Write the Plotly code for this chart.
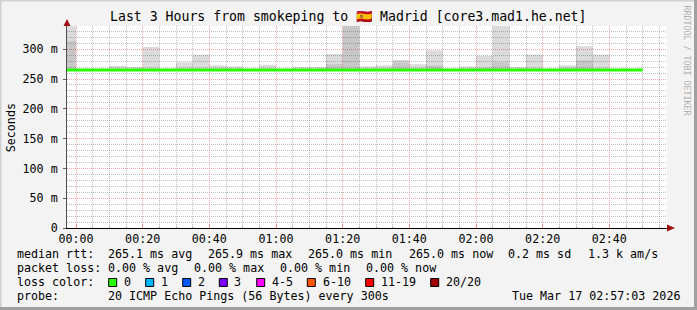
import plotly.graph_objects as go
import numpy as np

# ---------------- data ----------------
bin_start = [
    "2026-03-16 23:55", "2026-03-17 00:00", "2026-03-17 00:05", "2026-03-17 00:10",
    "2026-03-17 00:15", "2026-03-17 00:20", "2026-03-17 00:25", "2026-03-17 00:30",
    "2026-03-17 00:35", "2026-03-17 00:40", "2026-03-17 00:45", "2026-03-17 00:50",
    "2026-03-17 00:55", "2026-03-17 01:00", "2026-03-17 01:05", "2026-03-17 01:10",
    "2026-03-17 01:15", "2026-03-17 01:20", "2026-03-17 01:25", "2026-03-17 01:30",
    "2026-03-17 01:35", "2026-03-17 01:40", "2026-03-17 01:45", "2026-03-17 01:50",
    "2026-03-17 01:55", "2026-03-17 02:00", "2026-03-17 02:05", "2026-03-17 02:10",
    "2026-03-17 02:15", "2026-03-17 02:20", "2026-03-17 02:25", "2026-03-17 02:30",
    "2026-03-17 02:35", "2026-03-17 02:40", "2026-03-17 02:45",
]
data_end = "2026-03-17 02:50"

# smoke (ms): min, inner (darker) upper bound, max
smoke_low = [264] * 35
smoke_mid = [314, 264, 264, 264, 264, 264, 264, 264, 264, 264, 264, 264, 264, 264,
             264, 264, 275, 350, 264, 264, 278, 264, 273, 264, 264, 269, 278, 264,
             264, 264, 268, 281, 264, 264, 264]
smoke_high = [360, 266, 266, 272, 270, 304, 266, 278, 291, 273, 271, 266, 274, 266,
              270, 270, 292, 360, 271, 273, 282, 275, 298, 266, 271, 289, 360, 270,
              291, 266, 273, 305, 291, 266, 266]
median_rtt = [265.1] * 35

y_tick_vals = [0, 50, 100, 150, 200, 250, 300]
y_tick_text = ["0", "50 m", "100 m", "150 m", "200 m", "250 m", "300 m"]
y_minor_vals = [10, 20, 30, 40, 60, 70, 80, 90, 110, 120, 130, 140, 160, 170, 180, 190,
                210, 220, 230, 240, 260, 270, 280, 290, 310, 320, 330]

loss_labels = ["0", "1", "2", "3", "4-5", "6-10", "11-19", "20/20"]
loss_colors = ["#26ff00", "#00b8ff", "#0059ff", "#7e00ff", "#ff00ff", "#ff5500", "#ff0000", "#a00000"]

# ---------------- layout geometry ----------------
W, H = 697, 310
L, R, T, B = 67, 667, 26, 228
FONT = "DejaVu Sans Mono"
FS = 11.66


def px(x):
    return (x - L) / (R - L)


def py(y):
    return (B - y) / (B - T)


low = np.array(smoke_low, dtype=float)
mid = np.array(smoke_mid, dtype=float)
high = np.array(smoke_high, dtype=float)
STEP_MS = 5 * 60 * 1000

# minor x grid at 5-minute marks that are not 20-minute (major) marks
x_minor_vals = [t for t in bin_start + [data_end, "2026-03-17 02:55"] if int(t[-2:]) % 20 != 0]

fig = go.Figure()
fig.add_trace(go.Bar(x=bin_start, y=high - low, base=low, offset=0, width=STEP_MS,
                     marker=dict(color="rgba(0,0,0,0.14)", line=dict(width=0)), hoverinfo="skip"))
fig.add_trace(go.Bar(x=bin_start, y=mid - low, base=low, offset=0, width=STEP_MS,
                     marker=dict(color="rgba(0,0,0,0.09)", line=dict(width=0)), hoverinfo="skip"))
fig.add_trace(go.Scatter(x=bin_start + [data_end], y=median_rtt + [median_rtt[-1]],
                         mode="lines", line=dict(color="#26ff00", width=3, shape="hv"),
                         hoverinfo="skip"))

fig.update_layout(
    width=W, height=H, autosize=False,
    margin=dict(l=L, r=W - R, t=T, b=H - B, pad=0, autoexpand=False),
    paper_bgcolor="#f3f3f3", plot_bgcolor="#ffffff",
    barmode="overlay", showlegend=False,
    font=dict(family=FONT, size=FS, color="#000000"),
)

MAJOR = "rgba(255,110,110,0.6)"
MINOR = "rgba(140,140,140,0.55)"

fig.update_xaxes(
    type="date", automargin=False,
    range=["2026-03-16 23:57:18", "2026-03-17 02:57:18"],
    tick0="2026-03-17 00:00", dtick=20 * 60 * 1000, tickformat="%H:%M",
    showgrid=True, gridcolor=MAJOR, griddash="1px,1px", gridwidth=1,
    ticks="inside", ticklen=3, tickcolor="#ff8080",
    showline=True, linecolor="#000000", linewidth=1,
    zeroline=False,
    minor=dict(tickmode="array", tickvals=x_minor_vals, showgrid=True, gridcolor=MINOR,
               griddash="1px,1px", ticks="inside", ticklen=2, tickcolor="#b0b0b0"),
    tickfont=dict(family=FONT, size=FS, color="#000000"),
    fixedrange=True,
)
fig.update_yaxes(
    automargin=False,
    range=[0, 339],
    tickvals=y_tick_vals, ticktext=y_tick_text,
    showgrid=True, gridcolor=MAJOR, griddash="1px,1px", gridwidth=1,
    ticks="outside", ticklen=3, tickcolor="#606060",
    showline=True, linecolor="#505050", linewidth=1,
    zeroline=False,
    minor=dict(tickmode="array", tickvals=y_minor_vals, showgrid=True, gridcolor=MINOR,
               griddash="1px,1px"),
    tickfont=dict(family=FONT, size=FS, color="#000000"),
    ticklabelstandoff=3,
    fixedrange=True,
)

shapes = []
# frame (3D border)
shapes.append(dict(type="line", xref="paper", yref="paper", x0=px(0), x1=px(W), y0=py(0.5), y1=py(0.5),
                   line=dict(color="#d0d0d0", width=2)))
shapes.append(dict(type="line", xref="paper", yref="paper", x0=px(0.5), x1=px(0.5), y0=py(0), y1=py(H),
                   line=dict(color="#d0d0d0", width=2)))
shapes.append(dict(type="line", xref="paper", yref="paper", x0=px(W - 1.5), x1=px(W - 1.5), y0=py(0), y1=py(H),
                   line=dict(color="#a0a0a0", width=3)))
shapes.append(dict(type="line", xref="paper", yref="paper", x0=px(0), x1=px(W), y0=py(H - 1.5), y1=py(H - 1.5),
                   line=dict(color="#a0a0a0", width=3)))
# axis arrows
shapes.append(dict(type="path", xref="paper", yref="paper",
                   path=f"M {px(L-3.5)} {py(T)} L {px(L+3.5)} {py(T)} L {px(L)} {py(T-7)} Z",
                   fillcolor="#a01010", line=dict(width=0)))
shapes.append(dict(type="path", xref="paper", yref="paper",
                   path=f"M {px(R)} {py(B-3.5)} L {px(R)} {py(B+3.5)} L {px(R+8)} {py(B)} Z",
                   fillcolor="#a01010", line=dict(width=0)))
# loss color boxes
box_x = [108.7, 145.7, 182.7, 219.3, 256.7, 307.3, 365.7, 430.7]
label_x = [123.3, 160, 196.7, 233.3, 270.7, 321.7, 380, 445]
for bx, col in zip(box_x, loss_colors):
    shapes.append(dict(type="rect", xref="paper", yref="paper",
                       x0=px(bx), x1=px(bx + 8), y0=py(278.5), y1=py(286.5),
                       fillcolor=col, line=dict(color="#000000", width=1)))

annotations = []


def txt(x, y, s, anchor="left", size=FS, color="#000000", angle=0):
    annotations.append(dict(x=px(x), y=py(y), xref="paper", yref="paper", text=s,
                            showarrow=False, xanchor=anchor, yanchor="middle",
                            textangle=angle, borderpad=0,
                            font=dict(family=FONT, size=size, color=color)))


txt(348.5, 17, "Last 3 Hours from smokeping to 🇪🇸 Madrid [core3.mad1.he.net]",
    anchor="center", size=13.2)

txt(10.7, 127.5, "Seconds", anchor="center", angle=-90)
txt(686.5, 60, "RRDTOOL / TOBI OETIKER", anchor="center", size=8.3, color="#b0b0b0", angle=90)

y1, y2, y3, y4 = 254.3, 268.3, 282.3, 296.3
txt(16, y1, "median rtt:")
txt(107.3, y1, "265.1 ms avg")
txt(207.3, y1, "265.9 ms max")
txt(307.0, y1, "265.0 ms min")
txt(407.7, y1, "265.0 ms now")
txt(506.7, y1, "0.2 ms sd")
txt(586.7, y1, "1.3 k am/s")

txt(16, y2, "packet loss:")
txt(107.3, y2, "0.00 % avg")
txt(193.3, y2, "0.00 % max")
txt(279.3, y2, "0.00 % min")
txt(365.0, y2, "0.00 % now")

txt(16, y3, "loss color:")
for lx, lab in zip(label_x, loss_labels):
    txt(lx, y3, lab)

txt(16, y4, "probe:")
txt(107.3, y4, "20 ICMP Echo Pings (56 Bytes) every 300s")
txt(681, y4, "Tue Mar 17 02:57:03 2026", anchor="right")

fig.update_layout(shapes=shapes, annotations=annotations)

fig.write_html("out.html", config={"displayModeBar": False})
